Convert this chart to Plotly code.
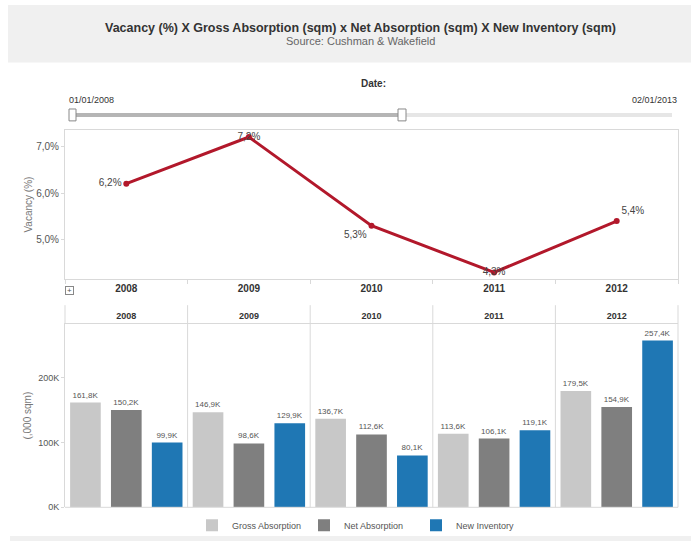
import plotly.graph_objects as go

# ---- data ----
years = ["2008", "2009", "2010", "2011", "2012"]
vacancy = [6.2, 7.2, 5.3, 4.3, 5.4]
vacancy_label_pos = ["middle left", "middle center", "bottom left", "middle center", "top right"]
gross = [161.8, 146.9, 136.7, 113.6, 179.5]
net = [150.2, 98.6, 112.6, 106.1, 154.9]
new_inv = [99.9, 129.9, 80.1, 119.1, 257.4]
series_names = ["Gross Absorption", "Net Absorption", "New Inventory"]
series_colors = ["#c8c8c8", "#7f7f7f", "#1f77b4"]
vac_ticks = [5.0, 6.0, 7.0]
vac_tick_labels = ["5,0%", "6,0%", "7,0%"]
bar_ticks = [0, 100, 200]
bar_tick_labels = ["0K", "100K", "200K"]
title = "Vacancy (%) X Gross Absorption (sqm) x Net Absorption (sqm) X New Inventory (sqm)"
subtitle = "Source: Cushman &amp; Wakefield"
date_title = "Date:"
date_range = ["01/01/2008", "02/01/2013"]

W, H = 691, 546
FONT = "Liberation Sans"
LINE = "#d9d9d9"


def px(x):
    return x / W


def py(y):
    return 1 - y / H


fig = go.Figure()

fig.add_trace(go.Scatter(
    x=years, y=vacancy, mode="lines+markers+text",
    line=dict(color="#b2182b", width=3), marker=dict(size=6, color="#b2182b"),
    texttemplate="%{y:.1f}%", textposition=vacancy_label_pos,
    textfont=dict(family=FONT, size=10, color="#444"),
    showlegend=False, cliponaxis=False, xaxis="x", yaxis="y",
))

for name, vals, color in zip(series_names, [gross, net, new_inv], series_colors):
    fig.add_trace(go.Bar(
        x=years, y=vals, name=name, marker=dict(color=color, line=dict(width=0)),
        texttemplate="%{y:.1f}K", textposition="outside",
        textfont=dict(family=FONT, size=8, color="#555"),
        cliponaxis=False, xaxis="x2", yaxis="y2",
    ))

shapes = [
    # title band
    dict(type="rect", xref="paper", yref="paper", x0=px(8), x1=1, y0=py(63), y1=py(5),
         fillcolor="#f0f0f0", line=dict(width=0), layer="below"),
    # bottom band
    dict(type="rect", xref="paper", yref="paper", x0=px(10), x1=1, y0=0, y1=py(541),
         fillcolor="#f0f0f0", line=dict(width=0), layer="below"),
    # slider track
    dict(type="rect", xref="paper", yref="paper", x0=px(73), x1=px(672), y0=py(118), y1=py(114),
         fillcolor="#e6e6e6", line=dict(width=0)),
    dict(type="rect", xref="paper", yref="paper", x0=px(73), x1=px(402), y0=py(118), y1=py(114),
         fillcolor="#b5b5b5", line=dict(width=0)),
    dict(type="rect", xref="paper", yref="paper", x0=px(69), x1=px(76), y0=py(122), y1=py(110),
         fillcolor="white", line=dict(width=1, color="#888")),
    dict(type="rect", xref="paper", yref="paper", x0=px(398), x1=px(406), y0=py(122), y1=py(110),
         fillcolor="white", line=dict(width=1, color="#888")),
    # bar chart bottom line
    dict(type="line", xref="paper", yref="paper", x0=px(65), x1=px(678), y0=py(512), y1=py(512),
         line=dict(color=LINE, width=1)),
    # right border of bar chart
    dict(type="line", xref="paper", yref="paper", x0=px(678), x1=px(678), y0=py(512), y1=py(308),
         line=dict(color=LINE, width=1)),
    dict(type="line", xref="paper", yref="paper", x0=px(65), x1=px(65), y0=py(327), y1=py(308),
         line=dict(color=LINE, width=1)),
]
for i in range(1, len(years)):
    shapes.append(dict(type="line", xref="x2", yref="paper", x0=i - 0.5, x1=i - 0.5,
                       y0=py(512), y1=py(308), line=dict(color=LINE, width=1)))

annotations = [
    dict(text="<b>" + title + "</b>", x=px(360), y=py(28), xref="paper", yref="paper",
         yanchor="middle", showarrow=False, font=dict(family=FONT, size=12.5, color="#333")),
    dict(text=subtitle, x=px(360), y=py(41), xref="paper", yref="paper", yanchor="middle",
         showarrow=False, font=dict(family=FONT, size=11, color="#666")),
    dict(text="<b>" + date_title + "</b>", x=px(373), y=py(84), xref="paper", yref="paper",
         yanchor="middle", showarrow=False, font=dict(family=FONT, size=10, color="#333")),
    dict(text=date_range[0], x=px(67), y=py(101), xref="paper", yref="paper", xanchor="left",
         yanchor="middle", showarrow=False, font=dict(family=FONT, size=9, color="#333")),
    dict(text=date_range[1], x=px(679), y=py(101), xref="paper", yref="paper", xanchor="right",
         yanchor="middle", showarrow=False, font=dict(family=FONT, size=9, color="#333")),
    dict(text="+", x=px(65), y=py(293), xref="paper", yref="paper", yanchor="middle",
         showarrow=False, font=dict(family=FONT, size=8, color="#555"),
         bordercolor="#888", borderwidth=1, borderpad=0, width=7, height=7),
]

fig.update_layout(
    width=W, height=H, margin=dict(l=0, r=0, t=0, b=0),
    paper_bgcolor="white", plot_bgcolor="white",
    separators=",.",
    font=dict(family=FONT, color="#555"),
    barmode="group", bargap=0.0, bargroupgap=0.25,
    shapes=shapes, annotations=annotations,
    xaxis=dict(domain=[px(65), px(678)], anchor="y", type="category", range=[-0.5, 4.5],
               showline=True, linecolor=LINE, mirror=True, ticks="outside", tickson="boundaries",
               ticklen=4, tickcolor=LINE, showgrid=False,
               tickfont=dict(family=FONT, size=10, color="#333", weight="bold")),
    yaxis=dict(domain=[py(282), py(131)], anchor="x", range=[4.15, 7.355],
               tickmode="array", tickvals=vac_ticks, ticktext=vac_tick_labels,
               showgrid=False, zeroline=False,
               showline=True, linecolor=LINE, mirror=True, ticks="outside", ticklen=3,
               tickcolor=LINE,
               tickfont=dict(family=FONT, size=10, color="#555"),
               title=dict(text="Vacancy (%)", font=dict(family=FONT, size=10, color="#777"), standoff=1)),
    xaxis2=dict(domain=[px(65), px(678)], anchor="y2", type="category", range=[-0.5, 4.5],
                side="top", showline=True, linecolor=LINE, ticks="", showgrid=False,
                tickfont=dict(family=FONT, size=9, color="#333", weight="bold")),
    yaxis2=dict(domain=[py(512), py(327)], anchor="x2", range=[0, 283],
                tickmode="array", tickvals=bar_ticks, ticktext=bar_tick_labels,
                showgrid=False, zeroline=False, showline=True, linecolor=LINE,
                ticks="outside", ticklen=3, tickcolor=LINE,
                tickfont=dict(family=FONT, size=9, color="#555"),
                title=dict(text="(,000 sqm)", font=dict(family=FONT, size=10, color="#777"), standoff=4)),
    legend=dict(orientation="h", x=px(192), y=py(530), xanchor="left", yanchor="middle",
                font=dict(family=FONT, size=9, color="#555"), entrywidth=67,
                entrywidthmode="pixels", bgcolor="rgba(0,0,0,0)"),
)

fig.write_html("out.html")
